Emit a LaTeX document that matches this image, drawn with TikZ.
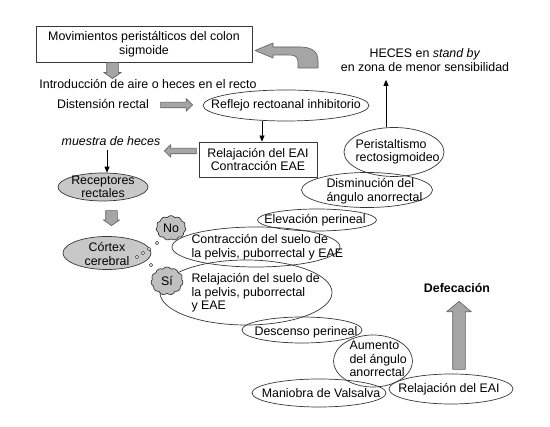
\documentclass[tikz,border=0pt]{standalone}
\usepackage{fontspec}
\setmainfont{Liberation Sans}
\usetikzlibrary{shapes.geometric,shapes.symbols,shapes.arrows,arrows.meta}
\definecolor{ovalgray}{RGB}{200,200,200}
\definecolor{cloudgray}{RGB}{192,192,192}
\definecolor{arrowgray}{RGB}{165,165,165}
\definecolor{linegray}{RGB}{55,55,55}
\newcommand\diagfont{\fontsize{12.4}{13.5}\selectfont}
\tikzset{
% Ovals are drawn empty, their texts are set over them
oval/.style={ellipse,draw=linegray,inner sep=0,line width=0.7pt},
grey oval/.style={oval,fill=ovalgray},
box/.style={rectangle,draw=linegray,line width=0.8pt,inner sep=0,align=center},
% Wide grey arrows (body = 2 x inner sep across, head = body + 2 x extend)
fat arrow/.style={single arrow,draw=linegray!80,fill=arrowgray,line width=0.6pt,inner sep=0,minimum width=0pt},
think/.style={cloud,cloud puffs=11,cloud puff arc=110,draw=linegray,fill=cloudgray,inner sep=0,line width=0.7pt},
bubble/.style={circle,draw=linegray,fill=white,inner sep=0,minimum size=3.6pt,line width=0.5pt},
thin arrow/.style={-{Triangle[length=6pt,width=5pt]},line width=0.8pt}
}

\begin{document}
\begin{tikzpicture}[x=1pt,y=-1pt,font=\diagfont,line join=round]
\useasboundingbox (0,0) rectangle (550,427);
% Upper part
\node(mov)[box,minimum width=216,minimum height=36] at (144,44) {Movimientos peristálticos del colon\\sigmoide};
\node(intro)[anchor=base] at (148,89) {Introducción de aire o heces en el recto};
\node(dist)[anchor=base] at (103,109) {Distensión rectal};
\node(reflejo)[oval,minimum width=166,minimum height=31] at (286,105.5) {};
\node(reflejo txt)[anchor=base] at (286,109) {Reflejo rectoanal inhibitorio};
\node(relbox)[box,minimum width=118,minimum height=35] at (258,159.5) {Relajación del EAI\\Contracción EAE};
\node(muestra)[anchor=base] at (111,146) {\itshape muestra de heces};
\node(receptores)[grey oval,minimum width=90,minimum height=28] at (103,187) {};
\node(receptores txt)[align=center] at (103,187) {Receptores\\rectales};
\node(cortex)[grey oval,minimum width=88,minimum height=33] at (107,253) {};
\node(cortex txt)[align=center] at (107,254) {Córtex\\cerebral};
\node(heces)[align=center] at (425,60) {HECES en \textit{stand by}\\en zona de menor sensibilidad};
% Ovals of the reflex chain
\node(peri)[oval,minimum width=100,minimum height=49] at (394,152) {};
\node(peri txt)[anchor=west,align=left] at (352,152) {Peristaltismo\\rectosigmoideo};
\node(dismi)[oval,minimum width=131,minimum height=35] at (367,190) {};
\node(dismi txt)[anchor=west,align=left] at (323,191) {Disminución del\\ángulo anorrectal};
\node(eleva)[oval,minimum width=119,minimum height=22] at (317,220) {};
\node(eleva txt) at (315,220) {Elevación perineal};
\node(contra)[oval,minimum width=168,minimum height=40] at (256,247) {};
\node(contra txt)[anchor=west,align=left] at (188,247) {Contracción del suelo de\\la pelvis, puborrectal y EAE};
\node(relsuelo)[oval,minimum width=172,minimum height=65] at (246,292.5) {};
\node(relsuelo txt)[anchor=west,align=left] at (188,293) {Relajación del suelo de\\la pelvis, puborrectal\\y EAE};
\node(desc)[oval,minimum width=120,minimum height=26] at (302,330) {};
\node(desc txt) at (306,332) {Descenso perineal};
\node(aumento)[oval,minimum width=79,minimum height=52] at (373,361) {};
\node(aumento txt)[anchor=west,align=left] at (346,359) {Aumento\\del ángulo\\anorrectal};
\node(valsalva)[oval,minimum width=134,minimum height=28] at (319,393) {};
\node(valsalva txt) at (321,393) {Maniobra de Valsalva};
\node(releai)[oval,minimum width=124,minimum height=30] at (451,389) {};
\node(releai txt) at (449,389) {Relajación del EAI};
\node(defeca)[anchor=base] at (457,293) {\bfseries Defecación};
% Thought clouds and bubbles
\node(no)[think,minimum width=30,minimum height=23] at (171,228) {No};
\node(si)[think,minimum width=32,minimum height=28] at (167,281) {Sí};
\foreach \x/\y [count=\i] in {137/257,143/253,149/249,157/243,151/265}
  \node(b\i)[bubble] at (\x,\y) {};
% Grey arrows
\node(a1)[fat arrow,inner xsep=5.5,single arrow head extend=3,minimum height=16,single arrow tip angle=110,shape border rotate=270,anchor=tip] at (112.5,79) {};
\node(a2)[fat arrow,inner ysep=2.5,single arrow head extend=3.5,minimum height=32,anchor=tip] at (193,105) {};
\node(a3)[fat arrow,inner ysep=2.5,single arrow head extend=3.5,minimum height=32,shape border rotate=180,anchor=tip] at (164,151) {};
\node(a4)[fat arrow,inner xsep=5.5,single arrow head extend=2.5,minimum height=15,single arrow tip angle=110,shape border rotate=270,anchor=tip] at (111.5,226) {};
\node(up)[fat arrow,inner xsep=6,single arrow head extend=6,minimum height=68,single arrow tip angle=100,shape border rotate=90,anchor=tip] at (459,301) {};
\draw[draw=linegray!80,fill=arrowgray,line width=0.6pt] (255,50.5) -- (273,43) -- (273,47) -- (300,47) .. controls (312,47) and (318,52) .. (318,60) -- (318,68) -- (298,68) -- (298,62) .. controls (298,57) and (295,55) .. (290,55) -- (273,55) -- (273,58) -- cycle;
% Black arrows
\draw[thin arrow] ([xshift=4]relbox.north |- reflejo.south) -- ([xshift=4]relbox.north);
\draw[thin arrow] ([xshift=4]receptores.north |- muestra.south) -- ([xshift=4]receptores.north);
\draw[thin arrow] ([xshift=-8]peri.north) -- ([xshift=-8,yshift=-5]peri.north |- heces.south);
\end{tikzpicture}
\end{document}
